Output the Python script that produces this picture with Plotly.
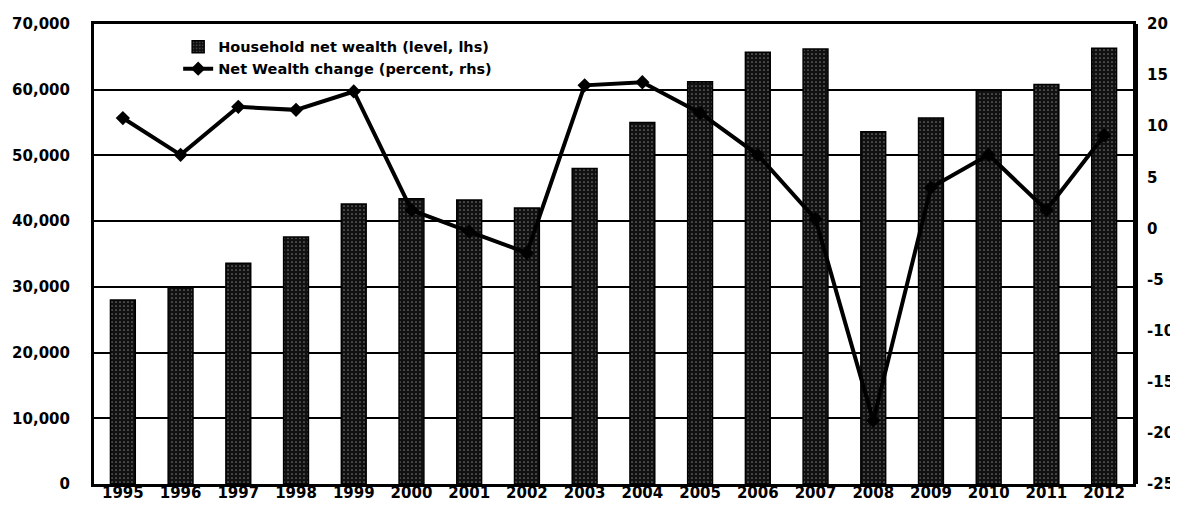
import plotly.graph_objects as go

years = ["1995", "1996", "1997", "1998", "1999", "2000", "2001", "2002", "2003",
         "2004", "2005", "2006", "2007", "2008", "2009", "2010", "2011", "2012"]
net_wealth = [28000, 29900, 33600, 37600, 42600, 43400, 43200, 42000, 48000,
              55000, 61200, 65700, 66200, 53600, 55700, 59900, 60800, 66300]
wealth_change = [10.8, 7.2, 11.9, 11.6, 13.4, 1.8, -0.3, -2.4, 14.0,
                 14.3, 11.3, 7.2, 0.9, -18.8, 4.0, 7.2, 1.8, 9.1]
left_ticks = [0, 10000, 20000, 30000, 40000, 50000, 60000, 70000]
left_labels = ["0", "10,000", "20,000", "30,000", "40,000", "50,000", "60,000", "70,000"]
right_ticks = [-25, -20, -15, -10, -5, 0, 5, 10, 15, 20]
right_labels = ["-25", "-20", "-15", "-10", "-5", "0", "5", "10", "15", "20"]

FONT = "DejaVu Sans"

fig = go.Figure()
fig.add_trace(go.Bar(
    x=years, y=net_wealth, name="Household net wealth (level, lhs)",
    width=0.43,
    marker=dict(color="#111111", line=dict(color="black", width=1.5),
                pattern=dict(shape=".", fgcolor="#d0d0d0", size=4, solidity=0.15)),
    yaxis="y", legendgroup="a",
))
fig.add_trace(go.Scatter(
    x=years, y=wealth_change, name="Net Wealth change (percent, rhs)",
    mode="lines+markers",
    line=dict(color="black", width=4),
    marker=dict(symbol="diamond", size=11, color="black"),
    yaxis="y2", legendgroup="b",
))

tickfont = dict(family=FONT, size=15, color="black", weight="bold")

fig.update_layout(
    width=1178, height=506,
    margin=dict(l=86, r=53, t=16, b=30, autoexpand=False),
    plot_bgcolor="white", paper_bgcolor="white",
    showlegend=True,
    legend=dict(x=0.081, y=0.985, xanchor="left", yanchor="top",
                bgcolor="rgba(0,0,0,0)",
                font=dict(family=FONT, size=14.5, color="black", weight="bold"),
                tracegroupgap=0, itemwidth=30),
    xaxis=dict(type="category", range=[-0.5, 17.5], tickfont=tickfont,
               showline=True, linecolor="black", linewidth=3, mirror=True,
               ticks="", ticklen=0, ticklabelstandoff=-7,
               showgrid=False, automargin=False),
    yaxis=dict(range=[0, 70000], tickvals=left_ticks, ticktext=left_labels,
               tickfont=tickfont, showgrid=True, gridcolor="black", gridwidth=1.5,
               showline=True, linecolor="black", linewidth=3, mirror=True,
               ticks="", ticklen=0, zeroline=False, ticklabelstandoff=18,
               automargin=False),
    yaxis2=dict(range=[-25, 20], tickvals=right_ticks, ticktext=right_labels,
                overlaying="y", side="right",
                tickfont=tickfont, showgrid=False, zeroline=False,
                showline=True, linecolor="black", linewidth=5,
                ticks="", ticklen=0, ticklabelstandoff=6, automargin=False),
)

fig.write_html("out.html")
